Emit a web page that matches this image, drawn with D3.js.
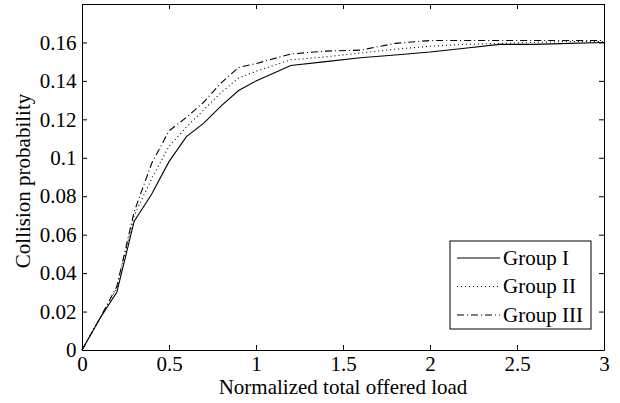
<!DOCTYPE html>
<html>
<head>
<meta charset="utf-8">
<script src="https://cdn.jsdelivr.net/npm/d3@7"></script>
<style>
  body { margin: 0; background: #fff; }
  svg text { font-family: "Liberation Serif", "Times New Roman", serif !important; fill: #000; }
</style>
</head>
<body>
<div id="chart"></div>
<script>
// data
var loads  = [0, 0.1, 0.2, 0.3, 0.4, 0.5, 0.6, 0.7, 0.8, 0.9, 1.0, 1.2, 1.4, 1.6, 1.8, 2.0, 2.2, 2.4, 2.6, 2.8, 3.0];
var group1 = [0, 0.016, 0.030, 0.067, 0.081, 0.098, 0.111, 0.118, 0.127, 0.135, 0.140, 0.148, 0.150, 0.152, 0.1535, 0.155, 0.157, 0.159, 0.159, 0.1595, 0.160];
var group2 = [0, 0.016, 0.032, 0.070, 0.089, 0.106, 0.116, 0.125, 0.134, 0.1415, 0.145, 0.151, 0.1525, 0.1545, 0.1565, 0.158, 0.159, 0.1595, 0.160, 0.1605, 0.1605];
var group3 = [0, 0.016, 0.033, 0.072, 0.097, 0.114, 0.121, 0.129, 0.139, 0.147, 0.149, 0.154, 0.1555, 0.156, 0.1595, 0.161, 0.161, 0.161, 0.161, 0.161, 0.161];
var seriesNames = ["Group I", "Group II", "Group III"];
var xTicks = [0, 0.5, 1, 1.5, 2, 2.5, 3];
var yTicks = [0, 0.02, 0.04, 0.06, 0.08, 0.1, 0.12, 0.14, 0.16];

var width = 620, height = 403;
var margin = {top: 4, right: 16, bottom: 53, left: 82};
var fontSize = 21;

var svg = d3.select("#chart").append("svg")
    .attr("width", width)
    .attr("height", height);

var x = d3.scaleLinear().domain([0, 3]).range([margin.left, width - margin.right]);
var y = d3.scaleLinear().domain([0, 0.18]).range([height - margin.bottom, margin.top]);

// line styles like matlab '-', ':', '-.'
var dashes = [null, "1,3", "7,3,1,3"];
var allSeries = [group1, group2, group3];

var line = d3.line()
    .x(function(d, i) { return x(loads[i]); })
    .y(function(d) { return y(d); });

svg.append("g")
  .selectAll("path")
  .data(allSeries)
  .enter()
  .append("path")
    .attr("d", line)
    .attr("fill", "none")
    .attr("stroke", "#000")
    .attr("stroke-width", 1.1)
    .attr("stroke-dasharray", function(d, i) { return dashes[i]; });

// axes with inward ticks on all four sides
var fmt = function(d) { return String(+d.toFixed(2)); };
var tick = 5;

svg.append("g")
    .attr("transform", "translate(0," + y(0) + ")")
    .call(d3.axisBottom(x).tickValues(xTicks).tickSizeInner(-tick).tickSizeOuter(0).tickPadding(6).tickFormat(fmt))
    .call(function(g) { g.selectAll("text").style("font-size", fontSize + "px"); });

svg.append("g")
    .attr("transform", "translate(0," + y(0.18) + ")")
    .call(d3.axisTop(x).tickValues(xTicks).tickSizeInner(-tick).tickSizeOuter(0).tickFormat(""));

svg.append("g")
    .attr("transform", "translate(" + x(0) + ",0)")
    .call(d3.axisLeft(y).tickValues(yTicks).tickSizeInner(-tick).tickSizeOuter(0).tickPadding(5.5).tickFormat(fmt))
    .call(function(g) { g.selectAll("text").style("font-size", fontSize + "px"); });

svg.append("g")
    .attr("transform", "translate(" + x(3) + ",0)")
    .call(d3.axisRight(y).tickValues(yTicks).tickSizeInner(-tick).tickSizeOuter(0).tickFormat(""));

svg.selectAll(".domain").attr("stroke", "#000");
svg.selectAll(".tick line").attr("stroke", "#000");

// axis titles
svg.append("text")
    .attr("x", (x(0) + x(3)) / 2)
    .attr("y", 394)
    .attr("text-anchor", "middle")
    .style("font-size", fontSize + "px")
    .text("Normalized total offered load");

svg.append("text")
    .attr("transform", "translate(30,181) rotate(-90)")
    .attr("text-anchor", "middle")
    .style("font-size", fontSize + "px")
    .text("Collision probability");

// legend
var legend = svg.append("g").attr("transform", "translate(450,241)");
legend.append("rect")
    .attr("width", 141)
    .attr("height", 88)
    .attr("fill", "#fff")
    .attr("stroke", "#000")
    .attr("stroke-width", 1);

var rows = legend.selectAll("g.row")
  .data(seriesNames)
  .enter()
  .append("g")
    .attr("class", "row")
    .attr("transform", function(d, i) { return "translate(0," + (17 + i * 28.5) + ")"; });

rows.append("line")
    .attr("x1", 7).attr("x2", 50)
    .attr("stroke", "#000")
    .attr("stroke-width", 1.1)
    .attr("stroke-dasharray", function(d, i) { return dashes[i]; });

rows.append("text")
    .attr("x", 53)
    .attr("dy", "0.33em")
    .style("font-size", fontSize + "px")
    .text(function(d) { return d; });
</script>
</body>
</html>
